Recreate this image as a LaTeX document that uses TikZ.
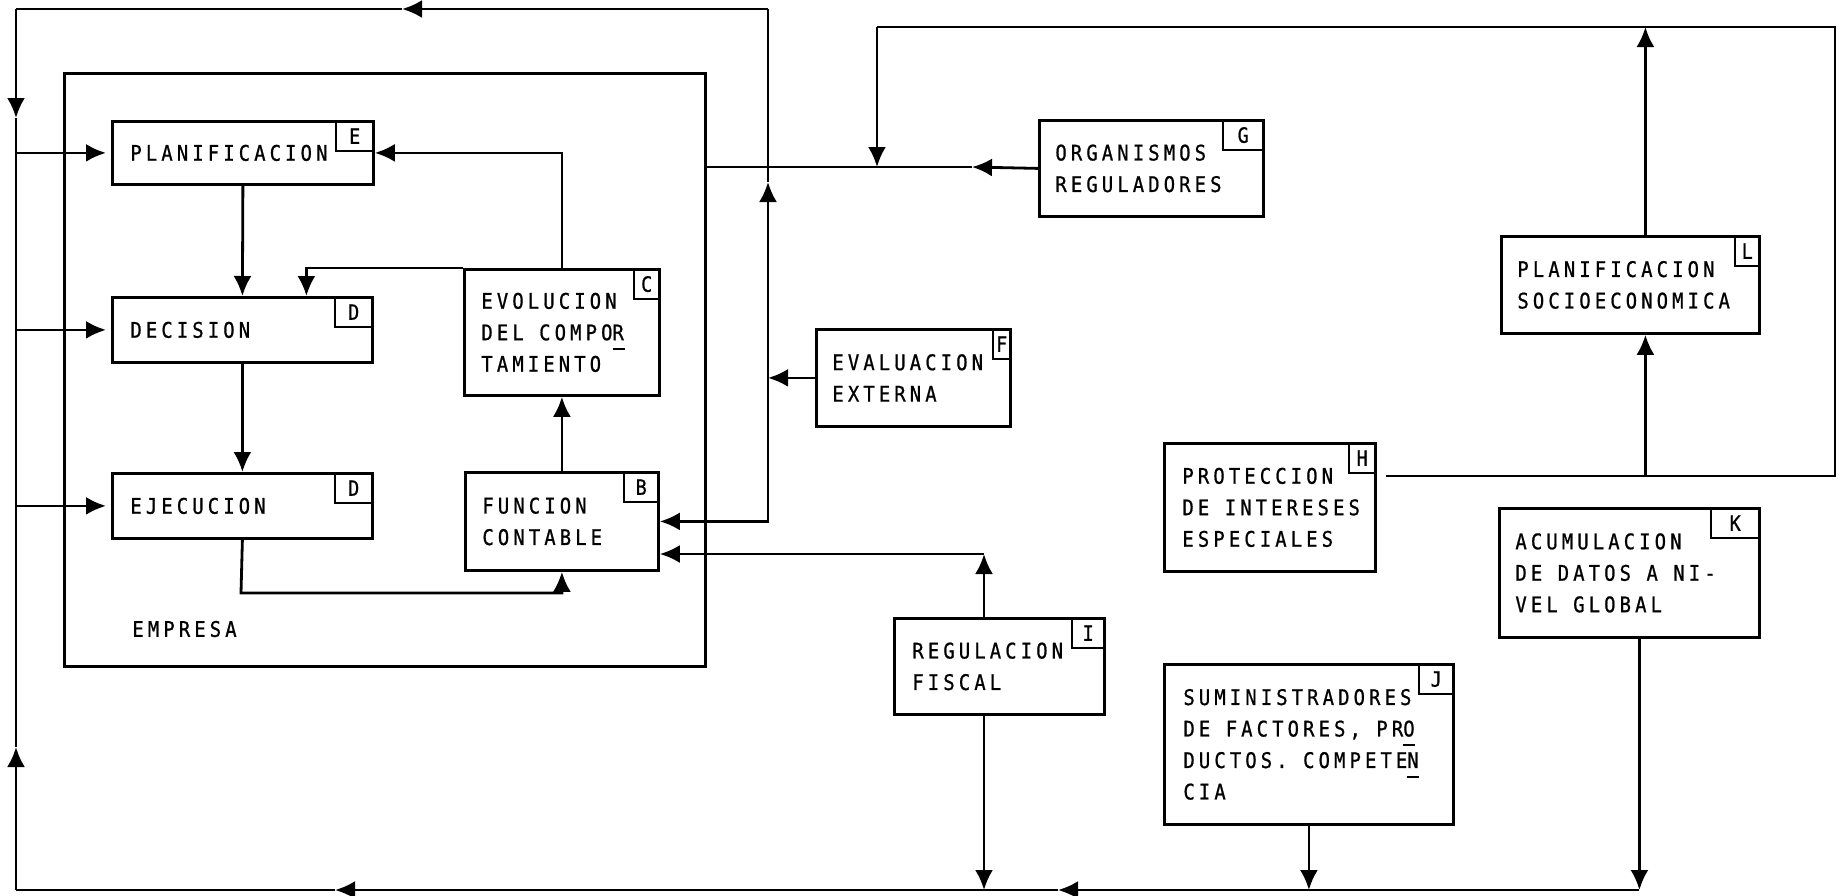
\documentclass[tikz,border=0pt]{standalone}
\usepackage{fontspec}
\usetikzlibrary{arrows.meta}

\newfontfamily\maquina{DejaVu Sans Mono}[LetterSpace=19, FakeStretch=0.88, FakeBold=0.8]
\newfontfamily\maquinatag{DejaVu Sans Mono}[FakeStretch=0.88, FakeBold=0.8]
\newcommand{\guion}[1]{\rlap{\rule[-10pt]{12pt}{2pt}}#1}

\tikzset{
  caja/.style={draw, anchor=north west, inner sep=0pt},
  etiqueta/.style={draw, line width=2.2pt, anchor=north east, inner sep=0pt,
    minimum height=30pt, font=\maquinatag\fontsize{21}{21}\selectfont},
  texto/.style={anchor=west, inner sep=0pt, align=left,
    font=\maquina\fontsize{21.5}{31.5}\selectfont},
}

\begin{document}
\begin{tikzpicture}[x=1pt, y=-1pt, line width=2.8pt, >={Latex[length=20pt,width=18pt]}]
    \useasboundingbox (0,0) rectangle (1841,895);
    % cajas
    \node[caja, minimum width=641pt, minimum height=593pt] (emp) at (63,72) {};
    \foreach \nombre/\x/\y/\w/\h in {plan/111/120/261/63, dec/111/296/260/65,
        eje/111/472/260/65, evo/463/268/195/126, fun/464/471/193/98,
        org/1038/119/224/96, eva/815/328/194/97, pse/1500/235/258/97,
        pro/1163/442/211/128, acu/1498/507/260/129, reg/893/617/210/96,
        sum/1163/663/289/160} {
        \node[caja, minimum width=\w pt, minimum height=\h pt] (\nombre) at (\x,\y) {};
      }
    \foreach \nombre/\letra/\w in {plan/E/38, dec/D/38, eje/D/38, evo/C/26,
        fun/B/35, org/G/41, eva/F/18, pse/L/25, pro/H/27, acu/K/49, reg/I/33,
        sum/J/35} {
        \node[etiqueta, minimum width=\w pt] (t\nombre) at (\nombre.north east) {\letra};
      }
    % textos
    \node[texto] (planT) at ([xshift=18pt]plan.west) {PLANIFICACION};
    \node[texto] (decT) at ([xshift=18pt]dec.west) {DECISION};
    \node[texto] (ejeT) at ([xshift=18pt]eje.west) {EJECUCION};
    \node[texto] (evoT) at ([xshift=17pt]evo.west) {EVOLUCION\\DEL COMPO\guion{R}\\TAMIENTO};
    \node[texto] (funT) at ([xshift=17pt]fun.west) {FUNCION\\CONTABLE};
    \node[texto] (empT) at (131,629) {EMPRESA};
    \node[texto] (orgT) at ([xshift=16pt]org.west) {ORGANISMOS\\REGULADORES};
    \node[texto] (evaT) at ([xshift=16pt]eva.west) {EVALUACION\\EXTERNA};
    \node[texto] (pseT) at ([xshift=16pt]pse.west) {PLANIFICACION\\SOCIOECONOMICA};
    \node[texto] (proT) at ([xshift=18pt]pro.west) {PROTECCION\\DE INTERESES\\ESPECIALES};
    \node[texto] (acuT) at ([xshift=16pt]acu.west) {ACUMULACION\\DE DATOS A NI-\\VEL GLOBAL};
    \node[texto] (regT) at ([xshift=18pt]reg.west) {REGULACION\\FISCAL};
    \node[texto] (sumT) at ([xshift=19pt]sum.west) {SUMINISTRADORES\\DE FACTORES, PR\guion{O}\\DUCTOS. COMPETE\guion{N}\\CIA};
    % puntos de paso
    \coordinate (esqNO) at (16,9);
    \coordinate (esqSO) at (16,890);
    \coordinate (esqNE) at (768,9);
    \coordinate (fTope) at (402,9);
    \coordinate (fBaja) at (16,118);
    \coordinate (fSube) at (16,747);
    \coordinate (fVert) at (768,182);
    \coordinate (fOrg) at (972,167);
    \coordinate (esqG) at (877,27);
    \coordinate (esqNE2) at (1835,27);
    \coordinate (esqE) at (1835,476);
    \coordinate (hSal) at (1386,476);
    \coordinate (esqI) at (984,554);
    \coordinate (esqEF) at (241,593);
    \coordinate (fAbajo1) at (1058,890);
    \coordinate (fAbajo2) at (335,890);
    % dentro de la empresa
    \draw[->] (plan.south) -- (dec.north);
    \draw[->] (dec.south) -- (eje.north);
    \draw[->] (eje.south) -- (esqEF) -| (fun.south);
    \draw[->] (fun.north) -- (evo.south);
    \draw[->] (evo.north) |- (plan.east);
    \draw[->] (evo.north west) -| ([xshift=64pt]dec.north);
    \foreach \nombre in {plan,dec,eje} {
        \draw[->] (\nombre.west -| esqNO) -- ([xshift=-5pt]\nombre.west);
      }
    % lazo exterior
    \draw[->] (esqNE) -- (fTope);
    \draw (fTope) -- (esqNO);
    \draw[->] (esqNO) -- (fBaja);
    \draw (fBaja) -- (fSube);
    \draw[->] (esqSO) -- (fSube);
    \draw[->] (eva.west) -- (eva.west -| esqNE);
    \draw[->] (eva.west -| esqNE) |- (fun.east);
    \draw[->] (eva.west -| esqNE) -- (fVert);
    \draw (fVert) -- (esqNE);
    \draw[->] (org.west) -- (fOrg);
    \draw (fOrg) -- (fOrg -| emp.east);
    \draw (hSal) -- (esqE) -- (esqNE2) -- (esqG);
    \draw[->] (esqG) -- (esqG |- fOrg);
    \draw[->] ([xshift=15pt]pse.south |- hSal) -- ([xshift=15pt]pse.south);
    \draw[->] ([xshift=15pt]pse.north) -- ([xshift=15pt]pse.north |- esqNE2);
    \draw[->] (reg.north -| esqI) -- (esqI);
    \draw[->] (esqI) -- (esqI -| fun.east);
    \draw[->] (reg.south -| esqI) -- (esqI |- esqSO);
    \draw[->] (sum.south) -- (sum.south |- esqSO);
    \draw[->] ([xshift=10pt]acu.south) -- ([xshift=10pt]acu.south |- esqSO);
    \draw[->] ([xshift=10pt]acu.south |- esqSO) -- (fAbajo1);
    \draw[->] (fAbajo1) -- (fAbajo2);
    \draw (fAbajo2) -- (esqSO);
  \end{tikzpicture}
\end{document}
